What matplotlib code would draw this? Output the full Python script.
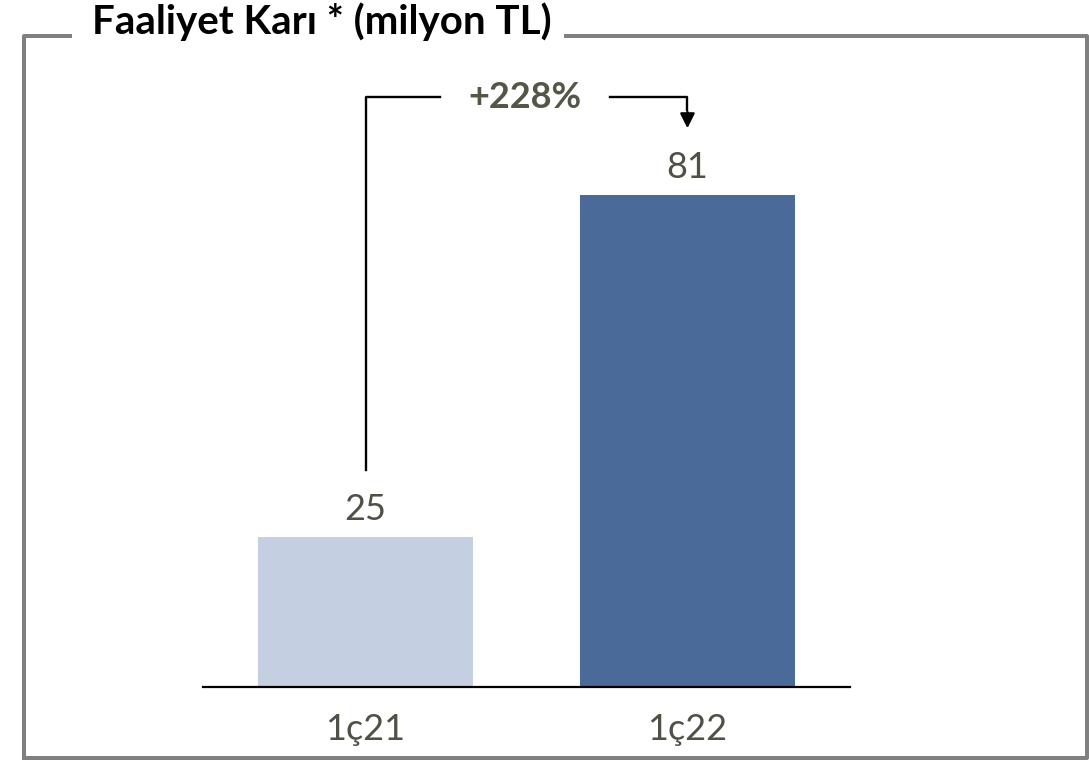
import matplotlib
matplotlib.use("Agg")
import matplotlib.pyplot as plt
from matplotlib.lines import Line2D

plt.rcParams['font.family'] = ['Lato', 'DejaVu Sans']

# data
periods = ["1ç21", "1ç22"]
values = [24.7, 81.0]
value_labels = ["25", "81"]
growth_label = "+228%"
title = "Faaliyet Karı * (milyon TL)"

bar_colors = ["#C4CFE1", "#4A6A99"]
text_color = "#505046"

W, H = 1089, 760
fig = plt.figure(figsize=(W / 100, H / 100), dpi=100)

# axes placed in pixels
left, right, bottom, top = 203, 850, 687, 60
ax = fig.add_axes([left / W, 1 - bottom / H, (right - left) / W, (bottom - top) / H])

x = range(len(values))
ax.bar(x, values, width=0.668, color=bar_colors, zorder=2)
ax.set_xlim(-0.505, 1.505)
ax.set_ylim(0, 103.3)

for i, (v, lab) in enumerate(zip(values, value_labels)):
    ax.text(i, v + 1.8, lab, ha="center", va="bottom", fontsize=26, color=text_color)

ax.set_xticks(list(x))
ax.set_xticklabels(periods, fontsize=26, color=text_color)
ax.tick_params(axis="x", length=0, pad=19)
ax.set_yticks([])
for s in ["top", "right", "left"]:
    ax.spines[s].set_visible(False)
ax.spines["bottom"].set_linewidth(1.6)
ax.spines["bottom"].set_color("black")

# growth bracket
level = max(values) * 1.2
gap = 11
ax.plot([0, 0, 0.231], [values[0] + gap, level, level], color="black", lw=1.7, clip_on=False)
ax.plot([0.76, 1, 1], [level, level, values[1] + gap + 3], color="black", lw=1.7, clip_on=False)
ax.annotate("", xy=(1, values[1] + gap - 0.4), xytext=(1, values[1] + gap + 3.2),
            arrowprops=dict(arrowstyle="-|>", color="black", lw=1.7, mutation_scale=22),
            annotation_clip=False)
ax.text(0.495, level, growth_label, ha="center", va="center", fontsize=26,
        fontweight="bold", color="#555548")

# frame with title break
fc = "#808080"
flw = 2.9
fl, fr, ft, fb = 24 / W, 1087 / W, 1 - 36 / H, 1 - 758 / H
for xs, ys in [([fl, fl, 70 / W], [fb, ft, ft]),
               ([566 / W, fr, fr, fl, fl], [ft, ft, fb, fb, fb])]:
    fig.add_artist(Line2D(xs, ys, color=fc, lw=flw, transform=fig.transFigure,
                          solid_capstyle="projecting"))
fig.text(92 / W, 1 - 22 / H, title, ha="left", va="center", fontsize=29,
         fontweight="bold", color="black")

fig.savefig("out.png", dpi=100)
